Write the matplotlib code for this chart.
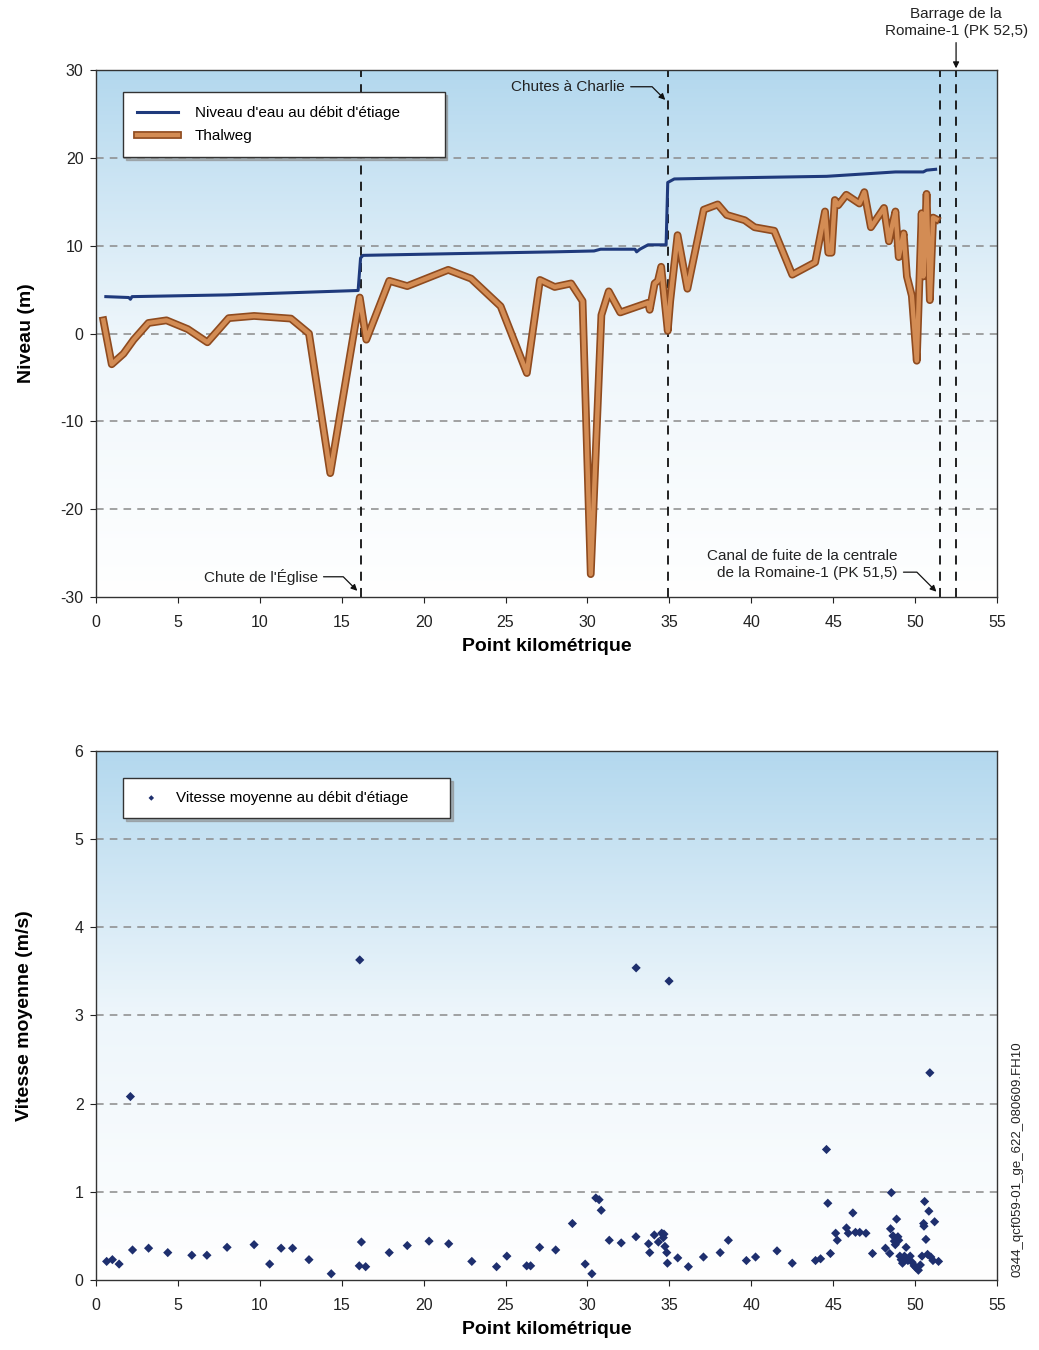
import numpy as np
import matplotlib
matplotlib.use("Agg")
import matplotlib.pyplot as plt
import matplotlib.patheffects as pe
from matplotlib.colors import LinearSegmentedColormap

plt.rcParams['font.family'] = ['Liberation Sans', 'DejaVu Sans']
plt.rcParams['axes.unicode_minus'] = False

# --- données : profil en long ---
water_km = [0.6, 2.0, 2.1, 2.2, 8.0, 16.0, 16.15, 16.3, 22.0, 28.0, 30.4, 30.8, 32.9, 33.0,
            33.2, 33.7, 34.8, 34.9, 35.3, 38.0, 44.6, 48.8, 50.5, 50.7, 51.25]
water_lvl = [4.2, 4.1, 3.9, 4.2, 4.4, 4.9, 8.6, 8.9, 9.1, 9.3, 9.4, 9.6, 9.6, 9.3,
             9.6, 10.1, 10.1, 17.2, 17.6, 17.7, 17.9, 18.4, 18.4, 18.6, 18.7]

thalweg_km = [0.45, 0.96, 1.68, 2.3, 3.2, 4.3, 5.6, 6.8, 8.1, 9.65, 11.9, 13.0, 14.3, 16.1,
              16.5, 17.9, 19.0, 21.5, 22.9, 24.7, 26.3, 27.1, 28.0, 29.0, 29.7, 30.2, 30.85,
              31.3, 32.0, 33.7, 33.8, 34.1, 34.3, 34.5, 34.9, 35.05, 35.5, 36.1, 37.1, 37.95,
              38.5, 39.6, 40.2, 41.4, 42.5, 43.9, 44.5, 44.7, 44.9, 45.1, 45.3, 45.8, 46.6,
              46.9, 47.3, 48.1, 48.4, 48.6, 48.8, 49.0, 49.3, 49.5, 49.8, 50.1, 50.4, 50.5,
              50.7, 50.9, 51.1, 51.3]
thalweg_lvl = [1.5, -3.5, -2.3, -0.7, 1.2, 1.5, 0.5, -1.0, 1.75, 2.0, 1.7, 0.0, -15.9, 4.1,
               -0.7, 6.0, 5.4, 7.25, 6.25, 3.1, -4.5, 6.1, 5.3, 5.7, 3.7, -27.4, 2.1,
               4.8, 2.4, 3.5, 2.7, 5.7, 6.0, 7.6, 0.3, 3.7, 11.2, 5.1, 14.1, 14.7,
               13.5, 12.9, 12.1, 11.7, 6.7, 8.1, 13.9, 9.2, 9.2, 15.2, 14.6, 15.8, 14.8,
               16.1, 12.1, 14.3, 10.5, 12.3, 13.9, 8.7, 11.4, 6.5, 4.3, -3.1, 13.7, 6.5,
               15.9, 3.8, 13.2, 13.0]

repere_km = [16.2, 34.9, 51.5, 52.5]

# --- données : vitesse moyenne ---
vit_km = [0.65, 1.0, 1.41, 2.1, 2.23, 3.21, 4.38, 5.85, 6.77, 8.0, 9.65, 10.6, 11.3, 12.0,
          13.0, 14.36, 16.07, 16.1, 16.2, 16.46, 17.9, 19.0, 20.33, 21.53, 22.94, 24.45,
          25.08, 26.29, 26.53, 27.08, 28.06, 29.08, 29.86, 30.27, 30.51, 30.71, 30.84,
          31.33, 32.06, 32.97, 32.96, 33.73, 33.8, 34.08, 34.33, 34.53, 34.67, 34.63,
          34.73, 34.84, 34.88, 34.98, 35.51, 36.16, 37.08, 38.1, 38.6, 39.7, 40.26, 41.57,
          42.5, 43.92, 44.23, 44.59, 44.67, 44.83, 45.15, 45.25, 45.81, 45.92, 46.2,
          46.36, 46.62, 47.0, 47.4, 48.19, 48.45, 48.55, 48.5, 48.65, 48.73, 48.79,
          48.87, 48.95, 49.0, 49.07, 49.15, 49.23, 49.35, 49.45, 49.56, 49.7, 49.82,
          49.94, 50.06, 50.2, 50.32, 50.42, 50.58, 50.54, 50.52, 50.66, 50.76, 50.84,
          50.9, 50.96, 51.09, 51.19, 51.43]
vit_ms = [0.21, 0.23, 0.18, 2.08, 0.34, 0.36, 0.31, 0.28, 0.28, 0.37, 0.40, 0.18, 0.36, 0.36,
          0.23, 0.07, 0.16, 3.63, 0.43, 0.15, 0.31, 0.39, 0.44, 0.41, 0.21, 0.15,
          0.27, 0.16, 0.16, 0.37, 0.34, 0.64, 0.18, 0.07, 0.93, 0.91, 0.79,
          0.45, 0.42, 3.54, 0.49, 0.41, 0.31, 0.51, 0.43, 0.53, 0.52, 0.48,
          0.38, 0.31, 0.19, 3.39, 0.25, 0.15, 0.26, 0.31, 0.45, 0.22, 0.26, 0.33,
          0.19, 0.22, 0.24, 1.48, 0.87, 0.30, 0.53, 0.45, 0.59, 0.53, 0.76,
          0.54, 0.54, 0.53, 0.30, 0.36, 0.30, 0.99, 0.58, 0.50, 0.44, 0.40,
          0.69, 0.49, 0.45, 0.27, 0.23, 0.19, 0.27, 0.37, 0.22, 0.27, 0.20,
          0.16, 0.14, 0.11, 0.17, 0.27, 0.89, 0.61, 0.64, 0.46, 0.29, 0.78,
          2.35, 0.26, 0.22, 0.66, 0.21]

x_ticks = [0, 5, 10, 15, 20, 25, 30, 35, 40, 45, 50, 55]

bleu = '#1f3a7c'
fond = LinearSegmentedColormap.from_list('fond', ['#ffffff', '#eef6fb', '#b3d8ee'])


def habiller(ax, ylim, yticks):
    grad = np.linspace(0, 1, 256).reshape(-1, 1)
    ax.imshow(grad, extent=[0, 1, 0, 1], transform=ax.transAxes, origin='lower',
              cmap=fond, aspect='auto', zorder=0)
    ax.set_xlim(0, 55)
    ax.set_ylim(*ylim)
    ax.set_xticks(x_ticks)
    ax.set_yticks(yticks)
    for y in yticks[1:-1]:
        ax.axhline(y, color='#8a8a8a', lw=1.1, ls=(0, (5, 4)), zorder=1)
    ax.tick_params(direction='out', length=4, labelsize=11.5, colors='#222222', pad=5)
    ax.tick_params(axis='x', pad=9)
    for s in ax.spines.values():
        s.set_color('#333333')
        s.set_linewidth(1.0)
    ax.set_xlabel('Point kilométrique', fontsize=14, fontweight='bold', labelpad=6)


fig = plt.figure(figsize=(10.39, 13.5), dpi=100)
ax1 = fig.add_axes([0.0924, 0.5578, 0.8672, 0.3903])
ax2 = fig.add_axes([0.0924, 0.0519, 0.8672, 0.3918])

# ---- graphique du haut ----
habiller(ax1, (-30, 30), [-30, -20, -10, 0, 10, 20, 30])
for k in repere_km:
    ax1.axvline(k, color='#111111', lw=1.3, ls=(0, (5, 4)), zorder=2)

ax1.plot(water_km, water_lvl, color=bleu, lw=2.2, zorder=4,
         label="Niveau d'eau au débit d'étiage")
ax1.plot(thalweg_km, thalweg_lvl, color='#d38c54', lw=3.2, zorder=3,
         path_effects=[pe.Stroke(linewidth=5.6, foreground='#8f4b1f'), pe.Normal()],
         label='Thalweg')
ax1.set_ylabel('Niveau (m)', fontsize=14, fontweight='bold', labelpad=18)

leg1 = ax1.legend(loc='upper left', bbox_to_anchor=(0.03, 0.835, 0.357, 0.123), mode='expand',
                  borderaxespad=0, fancybox=False, shadow={'color': '0.55', 'alpha': 0.6},
                  framealpha=1, edgecolor='#333333', fontsize=11, handlelength=2.7,
                  handletextpad=1.1, borderpad=0.9, labelspacing=0.6)
leg1.get_frame().set_linewidth(1.0)

arrow = dict(arrowstyle='-|>', color='#111111', lw=0.9, mutation_scale=9,
             shrinkA=2, shrinkB=0)
ax1.annotate("Chute de l'Église", xy=(15.95, -29.3), xytext=(13.55, -27.7),
             ha='right', va='center', fontsize=11, color='#222222',
             arrowprops=dict(arrow, connectionstyle='angle,angleA=0,angleB=135,rad=0'))
ax1.annotate('Chutes à Charlie', xy=(34.75, 26.6), xytext=(32.3, 28.1),
             ha='right', va='center', fontsize=11, color='#222222',
             arrowprops=dict(arrow, connectionstyle='angle,angleA=0,angleB=135,rad=0'))
ax1.annotate('Canal de fuite de la centrale\nde la Romaine-1 (PK 51,5)', xy=(51.3, -29.4),
             xytext=(48.95, -26.3), ha='right', va='center', fontsize=11, color='#222222',
             linespacing=1.25,
             arrowprops=dict(arrow, relpos=(1.0, 0.25),
                             connectionstyle='angle,angleA=0,angleB=135,rad=0'))
ax1.annotate('Barrage de la\nRomaine-1 (PK 52,5)', xy=(52.5, 30.2), xytext=(52.5, 33.6),
             ha='center', va='bottom', fontsize=11, color='#222222', linespacing=1.3,
             annotation_clip=False,
             arrowprops=dict(arrow, shrinkA=1))

# ---- graphique du bas ----
habiller(ax2, (0, 6), [0, 1, 2, 3, 4, 5, 6])
ax2.scatter(vit_km, vit_ms, marker='D', s=22, color='#1e2f6e', edgecolors='none',
            zorder=4, label="Vitesse moyenne au débit d'étiage")
ax2.set_ylabel('Vitesse moyenne (m/s)', fontsize=14, fontweight='bold', labelpad=30)
leg2 = ax2.legend(loc='upper left', bbox_to_anchor=(0.03, 0.85, 0.363, 0.099), mode='expand',
                  borderaxespad=0, fancybox=False, shadow={'color': '0.55', 'alpha': 0.6},
                  framealpha=1, edgecolor='#333333', fontsize=11, handletextpad=0.6,
                  borderpad=0.85, scatterpoints=1, markerscale=0.6)
leg2.get_frame().set_linewidth(1.0)

fig.text(0.979, 0.1415, '0344_qcf059-01_ge_622_080609.FH10', rotation=90,
         ha='center', va='center', fontsize=9.5, color='#222222')

fig.savefig('out.png', dpi=100)
